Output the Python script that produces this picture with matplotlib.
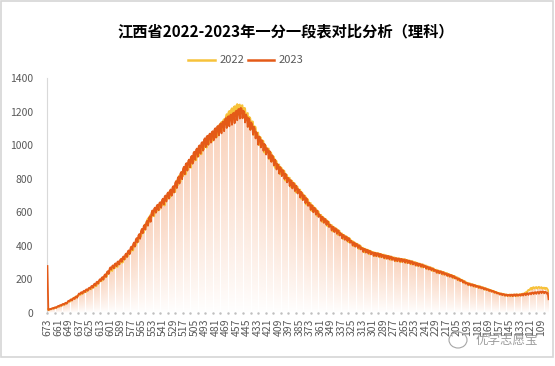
import matplotlib.pyplot as plt
import matplotlib.patches as patches
from matplotlib.lines import Line2D
import numpy as np

plt.rcParams['font.family'] = ['Noto Sans CJK SC', 'DejaVu Sans']

title = "江西省2022-2023年一分一段表对比分析（理科）"
series_names = ["2022", "2023"]

# scores from 673 down to 100, one count per score
scores = list(range(673, 99, -1))

# 2023 counts, rows of 12 scores (673-662, 661-650, ...)
v2023 = [
    280, 18, 21, 24, 22, 27, 29, 26, 32, 34, 30, 37,
    41, 38, 45, 47, 43, 52, 54, 49, 58, 61, 55, 66,
    73, 68, 78, 81, 74, 86, 90, 83, 96, 99, 91, 106,
    116, 110, 121, 124, 115, 129, 133, 124, 139, 141, 132, 147,
    151, 143, 158, 162, 150, 170, 175, 163, 183, 187, 174, 194,
    201, 190, 210, 214, 198, 224, 230, 214, 243, 249, 232, 262,
    272, 258, 279, 284, 266, 292, 296, 278, 304, 308, 289, 315,
    322, 305, 330, 337, 318, 348, 354, 333, 368, 373, 350, 387,
    396, 376, 410, 420, 395, 436, 446, 420, 461, 470, 442, 488,
    501, 475, 516, 525, 496, 541, 549, 520, 566, 575, 543, 596,
    611, 580, 621, 628, 597, 640, 645, 612, 655, 660, 626, 673,
    681, 646, 693, 700, 664, 711, 718, 681, 729, 736, 698, 748,
    756, 718, 774, 785, 744, 802, 812, 771, 830, 840, 797, 858,
    871, 826, 884, 893, 848, 906, 914, 868, 928, 936, 889, 953,
    961, 912, 973, 980, 930, 993, 999, 949, 1012, 1018, 967, 1032,
    1041, 988, 1050, 1056, 1002, 1064, 1069, 1015, 1078, 1083, 1028, 1093,
    1101, 1045, 1110, 1114, 1058, 1123, 1128, 1070, 1136, 1141, 1083, 1152,
    1161, 1102, 1168, 1172, 1112, 1178, 1182, 1121, 1189, 1192, 1130, 1199,
    1205, 1148, 1212, 1216, 1158, 1222, 1218, 1160, 1205, 1198, 1135, 1182,
    1170, 1108, 1162, 1152, 1090, 1135, 1126, 1062, 1110, 1100, 1040, 1078,
    1062, 1002, 1052, 1045, 986, 1030, 1022, 966, 1008, 1000, 944, 982,
    976, 920, 965, 955, 900, 940, 930, 878, 915, 905, 855, 888,
    880, 830, 870, 862, 815, 852, 845, 798, 830, 822, 778, 806,
    800, 756, 792, 786, 742, 776, 770, 726, 760, 752, 712, 738,
    730, 688, 722, 714, 672, 702, 694, 654, 685, 676, 638, 658,
    650, 614, 643, 637, 600, 628, 622, 586, 612, 606, 572, 588,
    580, 548, 574, 569, 537, 562, 557, 525, 548, 543, 512, 527,
    520, 492, 515, 511, 482, 505, 501, 472, 494, 490, 462, 477,
    470, 444, 466, 462, 436, 457, 453, 428, 447, 444, 418, 432,
    425, 402, 422, 418, 395, 413, 410, 387, 404, 401, 379, 391,
    385, 364, 383, 381, 360, 377, 375, 354, 371, 369, 349, 363,
    360, 340, 359, 358, 338, 356, 355, 335, 352, 351, 332, 347,
    345, 326, 343, 342, 323, 340, 339, 320, 336, 335, 316, 331,
    328, 310, 327, 326, 308, 325, 324, 306, 322, 322, 304, 319,
    318, 300, 316, 315, 297, 312, 311, 293, 308, 307, 289, 302,
    300, 283, 298, 296, 280, 294, 292, 276, 289, 288, 272, 283,
    280, 264, 277, 275, 259, 272, 270, 254, 266, 264, 249, 258,
    255, 240, 253, 251, 236, 249, 247, 232, 244, 242, 228, 237,
    235, 221, 232, 230, 216, 227, 225, 211, 221, 219, 205, 213,
    210, 197, 206, 203, 190, 198, 195, 182, 190, 187, 175, 181,
    178, 167, 176, 174, 163, 171, 170, 159, 167, 165, 155, 161,
    160, 150, 158, 156, 146, 153, 151, 141, 148, 146, 137, 142,
    140, 131, 137, 135, 126, 132, 130, 121, 126, 124, 116, 120,
    118, 110, 116, 115, 106, 113, 112, 103, 110, 109, 101, 108,
    108, 101, 109, 109, 100, 110, 110, 101, 111, 110, 102, 110,
    110, 103, 112, 113, 104, 115, 115, 106, 117, 117, 108, 118,
    119, 111, 121, 122, 113, 123, 124, 114, 125, 125, 115, 126,
    127, 118, 128, 127, 117, 126, 125, 115, 122, 82,
]

# 2022 counts, same score order
v2022 = [
    24, 19, 18, 23, 23, 24, 28, 29, 27, 33, 33, 34,
    38, 40, 38, 45, 46, 45, 52, 53, 50, 59, 60, 60,
    68, 72, 68, 80, 82, 80, 90, 93, 87, 99, 101, 100,
    109, 113, 108, 120, 121, 117, 128, 131, 124, 136, 138, 136,
    142, 148, 141, 155, 158, 152, 167, 171, 160, 178, 181, 178,
    190, 198, 190, 209, 212, 206, 226, 231, 218, 244, 248, 243,
    256, 262, 250, 270, 274, 266, 283, 288, 274, 295, 298, 292,
    304, 314, 300, 328, 333, 322, 349, 355, 338, 367, 371, 362,
    375, 388, 372, 408, 415, 402, 438, 446, 425, 462, 468, 455,
    485, 498, 478, 521, 530, 514, 554, 564, 538, 578, 586, 570,
    592, 604, 576, 618, 625, 605, 637, 646, 613, 652, 658, 640,
    660, 672, 640, 690, 698, 676, 712, 720, 686, 725, 732, 712,
    733, 750, 720, 780, 790, 760, 808, 820, 780, 832, 842, 815,
    845, 860, 825, 878, 886, 855, 900, 910, 865, 922, 930, 900,
    932, 948, 910, 960, 968, 934, 982, 990, 945, 1000, 1008, 975,
    1010, 1025, 985, 1040, 1046, 1010, 1058, 1064, 1020, 1066, 1072, 1040,
    1078, 1090, 1050, 1110, 1118, 1080, 1130, 1138, 1090, 1148, 1155, 1120,
    1170, 1185, 1130, 1196, 1204, 1160, 1212, 1220, 1150, 1226, 1232, 1185,
    1236, 1245, 1180, 1240, 1242, 1190, 1236, 1238, 1165, 1222, 1220, 1170,
    1186, 1192, 1110, 1168, 1160, 1105, 1142, 1140, 1060, 1112, 1108, 1060,
    1070, 1075, 1000, 1050, 1045, 995, 1028, 1025, 955, 1000, 995, 955,
    975, 980, 915, 960, 952, 905, 935, 930, 865, 910, 905, 870,
    880, 885, 826, 868, 862, 820, 850, 846, 788, 826, 822, 792,
    802, 806, 750, 790, 785, 746, 775, 771, 718, 756, 752, 722,
    732, 735, 680, 718, 712, 676, 700, 696, 645, 680, 676, 645,
    652, 656, 608, 642, 636, 603, 626, 622, 578, 608, 605, 578,
    582, 585, 542, 572, 567, 538, 560, 556, 517, 545, 542, 516,
    522, 525, 486, 514, 510, 484, 504, 501, 465, 492, 489, 466,
    472, 474, 440, 465, 461, 438, 456, 453, 421, 446, 443, 422,
    427, 429, 398, 421, 418, 397, 413, 410, 381, 403, 401, 382,
    387, 389, 361, 383, 381, 362, 377, 376, 350, 371, 369, 352,
    362, 363, 338, 359, 358, 340, 356, 355, 331, 352, 351, 334,
    347, 348, 324, 343, 342, 325, 340, 339, 316, 336, 335, 319,
    330, 331, 308, 327, 326, 310, 325, 324, 302, 322, 322, 308,
    320, 321, 298, 316, 315, 299, 312, 311, 289, 308, 307, 292,
    302, 303, 281, 298, 296, 281, 294, 292, 271, 289, 288, 274,
    282, 283, 262, 277, 275, 261, 272, 270, 250, 266, 264, 250,
    257, 258, 238, 253, 251, 238, 249, 247, 228, 244, 242, 229,
    237, 238, 219, 232, 230, 218, 227, 225, 207, 221, 219, 206,
    212, 212, 194, 206, 203, 191, 198, 195, 179, 190, 187, 175,
    180, 180, 165, 176, 174, 164, 171, 170, 156, 167, 165, 155,
    162, 162, 148, 158, 156, 147, 153, 151, 138, 148, 146, 137,
    142, 141, 129, 137, 135, 127, 132, 130, 119, 126, 124, 116,
    120, 119, 109, 116, 115, 108, 113, 112, 102, 110, 109, 102,
    110, 110, 100, 109, 109, 102, 110, 110, 100, 111, 110, 104,
    112, 113, 104, 114, 116, 110, 120, 124, 118, 132, 138, 134,
    145, 150, 140, 152, 154, 146, 152, 155, 145, 153, 156, 148,
    152, 154, 144, 150, 151, 142, 150, 148, 140, 130,
]

tick_scores = scores[::12]

assert len(v2022) == len(scores) and len(v2023) == len(scores)

c22 = '#F7C23A'
c23 = '#E45A18'
grey = '#595959'

fig = plt.figure(figsize=(5.55, 3.66), dpi=100)
ax = fig.add_axes([47 / 555, 53 / 366, 502 / 555, 235 / 366])

x = np.arange(len(scores))
y22 = np.array(v2022, dtype=float)
y23 = np.array(v2023, dtype=float)
top = np.maximum(y22, y23)

ax.set_xlim(-0.5, len(scores) - 0.5)
ax.set_ylim(0, 1400)

# gradient columns under the curves (peach at top, fading to white)
ny = 400
yy = np.linspace(0, 1400, ny)
frac = yy[:, None] / top[None, :]
alpha = np.where(frac <= 1, 0.5 * np.clip(frac, 0, 1) ** 0.9, 0)
img = np.zeros((ny, len(scores), 4))
img[..., 0] = 244 / 255
img[..., 1] = 165 / 255
img[..., 2] = 120 / 255
img[..., 3] = alpha
ax.imshow(img, origin='lower', aspect='auto', extent=(-0.5, len(scores) - 0.5, 0, 1400),
          interpolation='bilinear', zorder=1)

# white stripes + grey dots along the base (column moire of the original)
stripes = np.arange(0, len(scores), 8.6)
for sx in stripes:
    ax.axvline(sx, color='white', lw=0.8, zorder=2)
ax.scatter(stripes, np.full(len(stripes), 0), s=0.6, color='#BFBFBF', zorder=3, clip_on=False)

ax.plot(x, y22, color=c22, lw=1.3, zorder=4)
ax.plot(x, y23, color=c23, lw=1.3, zorder=5)

# axes styling
for s in ['top', 'right', 'bottom']:
    ax.spines[s].set_visible(False)
ax.spines['left'].set_color('#D9D9D9')
ax.spines['left'].set_linewidth(0.8)
ax.set_yticks(np.arange(0, 1401, 200))
ax.tick_params(axis='y', length=0, labelsize=7.5, labelcolor=grey, pad=10)
ax.set_xticks([scores.index(s) for s in tick_scores])
ax.set_xticklabels([str(s) for s in tick_scores], rotation=90, fontsize=7.5, color=grey)
ax.tick_params(axis='x', length=0, pad=4)

fig.text(0.515, 0.913, title, ha='center', va='center', fontsize=11, fontweight='bold', color='black')

handles = [Line2D([0], [0], color=c22, lw=1.8), Line2D([0], [0], color=c23, lw=1.8)]
fig.legend(handles, series_names, loc='center', bbox_to_anchor=(0.443, 0.835), ncol=2, frameon=False,
           fontsize=8, handlelength=2.4, handletextpad=0.4, columnspacing=0.3, labelcolor=grey)

# watermark
fig.text(475 / 555, 26 / 366, "优学志愿宝", ha='left', va='center', fontsize=9, color='#8C8C8C', alpha=0.85)
fig.patches.append(patches.Ellipse((458 / 555, 26 / 366), 18 / 555, 16 / 366, transform=fig.transFigure,
                                   fill=False, edgecolor='#A6A6A6', lw=0.8))

# outer frame
fig.patches.append(patches.Rectangle((1 / 555, 9 / 366), 552 / 555, 356 / 366, transform=fig.transFigure,
                                     fill=False, edgecolor='#D6D6D6', lw=1.2))

fig.savefig('out.png', dpi=100)
